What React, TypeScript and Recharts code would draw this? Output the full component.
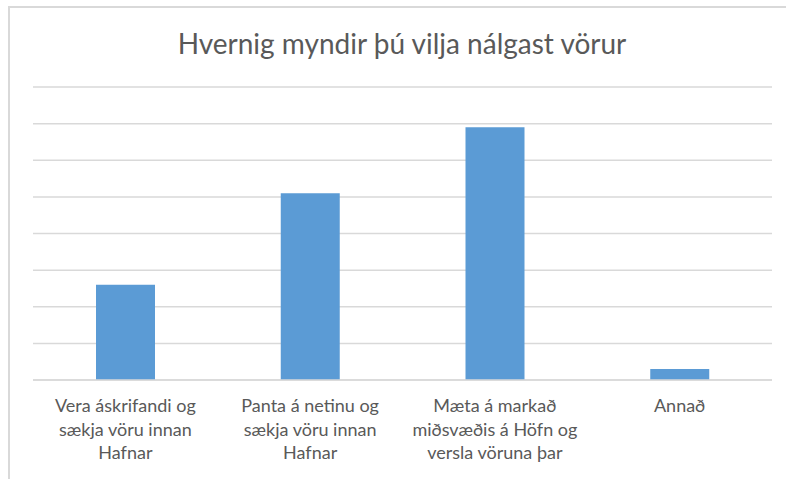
import React from "react";
import { BarChart, Bar, XAxis, YAxis, CartesianGrid } from "recharts";

const TITLE = "Hvernig myndir þú vilja nálgast vörur";

// category labels, one string per line of the wrapped tick
const categories = [
  ["Vera áskrifandi og", "sækja vöru innan", "Hafnar"],
  ["Panta á netinu og", "sækja vöru innan", "Hafnar"],
  ["Mæta á markað", "miðsvæðis á Höfn og", "versla vöruna þar"],
  ["Annað"],
];
const values = [26, 51, 69, 3];
const yTicks = [0, 10, 20, 30, 40, 50, 60, 70, 80];

const data = categories.map((lines, i) => ({
  name: lines.join("\n"),
  value: values[i],
}));

const TEXT = "#595959";
const GRID = "#d9d9d9";
const FONT = "Lato, 'Open Sans', sans-serif";

// eslint-disable-next-line @typescript-eslint/no-explicit-any
function WrappedTick({ x, y, payload }: any) {
  const lines = String(payload.value).split("\n");
  return (
    <text
      x={x}
      y={y + 24}
      textAnchor="middle"
      fill={TEXT}
      fontSize={18}
      fontFamily={FONT}
    >
      {lines.map((line, i) => (
        <tspan key={i} x={x} dy={i === 0 ? 0 : 23.5}>
          {line}
        </tspan>
      ))}
    </text>
  );
}

export default function App() {
  return (
    <div
      style={{
        position: "absolute",
        left: 0,
        top: 0,
        width: 786,
        height: 479,
        overflow: "hidden",
        background: "#fff",
      }}
    >
      <div
        style={{
          position: "absolute",
          left: 8,
          top: 6,
          width: 820,
          height: 520,
          borderLeft: `2px solid ${GRID}`,
          borderTop: `2px solid ${GRID}`,
        }}
      />
      <div
        style={{
          position: "absolute",
          left: 0,
          top: 26,
          width: 804,
          textAlign: "center",
          fontFamily: FONT,
          fontSize: 28,
          lineHeight: "34px",
          color: TEXT,
        }}
      >
        {TITLE}
      </div>
      <div style={{ position: "absolute", left: 0, top: 0 }}>
        <BarChart
          width={786}
          height={479}
          data={data}
          margin={{ top: 87, right: 14, left: 33, bottom: 9 }}
        >
          <CartesianGrid vertical={false} stroke={GRID} strokeWidth={1.5} />
          <XAxis
            dataKey="name"
            height={90}
            tickLine={false}
            axisLine={{ stroke: GRID, strokeWidth: 1.5 }}
            tick={<WrappedTick />}
            interval={0}
          />
          <YAxis hide domain={[0, 80]} ticks={yTicks} />
          <Bar
            dataKey="value"
            fill="#5b9bd5"
            barSize={59}
            isAnimationActive={false}
          />
        </BarChart>
      </div>
    </div>
  );
}
